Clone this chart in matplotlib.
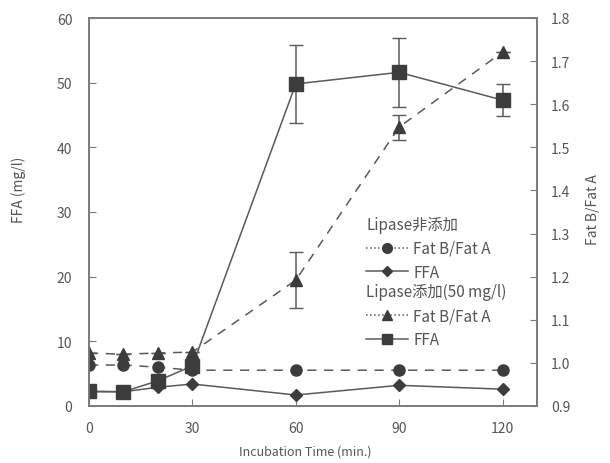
import matplotlib
matplotlib.use('Agg')
import matplotlib.pyplot as plt
from matplotlib.lines import Line2D

plt.rcParams['font.family'] = ['Noto Sans CJK JP', 'DejaVu Sans']

time = [0, 10, 20, 30, 60, 90, 120]

# Lipase not added
ratio_ctrl = [0.995, 0.995, 0.990, 0.983, 0.983, 0.983, 0.983]
ffa_ctrl = [2.2, 2.2, 2.9, 3.4, 1.7, 3.2, 2.6]

# Lipase added (50 mg/l)
ratio_lip = [1.023, 1.020, 1.023, 1.025, 1.192, 1.547, 1.721]
ratio_lip_err = [0, 0, 0, 0, 0.065, 0.029, 0]
ffa_lip = [2.3, 2.2, 3.9, 6.2, 49.8, 51.6, 47.3]
ffa_lip_err = [0, 0, 0, 0, 6.0, 5.3, 2.5]

grey_txt = '#555555'
grey_axis = '#7a7a7a'
mark = '#3c3c3c'
line = '#5a5a5a'

fig = plt.figure(figsize=(6.1, 4.64), dpi=100)
ax = fig.add_axes([89/610, 57/464, 448/610, 388/464])
ax2 = ax.twinx()

# left axis: FFA
ax.errorbar(time, ffa_lip, yerr=ffa_lip_err, color=line, lw=1.1,
            marker='s', ms=10, mfc=mark, mec=mark, ecolor=line,
            elinewidth=1.1, capsize=5, zorder=3)
ax.plot(time, ffa_ctrl, color=line, lw=1.1, marker='D', ms=6,
        mfc=mark, mec=mark, zorder=3)

# right axis: Fat B / Fat A
ax2.errorbar(time, ratio_lip, yerr=ratio_lip_err, color=line, lw=1.1,
             dashes=(6, 5), marker='^', ms=9, mfc=mark, mec=mark,
             ecolor=line, elinewidth=1.1, capsize=5)
ax2.plot(time, ratio_ctrl, color=line, lw=1.1, dashes=(6, 5), marker='o',
         ms=8, mfc=mark, mec=mark)

ax.set_xlim(0, 130)
ax.set_ylim(0, 60)
ax2.set_ylim(0.9, 1.8)
ax.set_xticks([0, 30, 60, 90, 120])
ax.set_yticks(range(0, 61, 10))
ax2.set_yticks([0.9, 1.0, 1.1, 1.2, 1.3, 1.4, 1.5, 1.6, 1.7, 1.8])
ax2.set_yticklabels(['0.9', '1.0', '1.1', '1.2', '1.3', '1.4', '1.5',
                     '1.6', '1.7', '1.8'])

for a in (ax, ax2):
    for s in a.spines.values():
        s.set_color(grey_axis)
        s.set_linewidth(1.2)
ax.tick_params(axis='both', direction='in', length=5, color=grey_axis,
               labelcolor=grey_txt, labelsize=10)
ax.tick_params(axis='y', pad=12)
ax.tick_params(axis='x', pad=11)
ax2.tick_params(axis='y', direction='in', length=5, color=grey_axis,
                labelcolor=grey_txt, labelsize=10, pad=10)

ax.set_xlabel('Incubation Time (min.)', color=grey_txt, fontsize=9)
ax.set_ylabel('FFA (mg/l)', color=grey_txt, fontsize=10)
ax2.set_ylabel('Fat B/Fat A', color=grey_txt, fontsize=10)
ax.xaxis.set_label_coords(0.483, -0.1)
ax.yaxis.set_label_coords(-0.14, 0.56)
ax2.yaxis.set_label_coords(1.11, 0.51)

h_ctrl = [Line2D([], [], color=line, lw=1.1, ls=':', marker='o', ms=7,
                 mfc=mark, mec=mark),
          Line2D([], [], color=line, lw=1.1, marker='D', ms=5,
                 mfc=mark, mec=mark)]
h_lip = [Line2D([], [], color=line, lw=1.1, ls=':', marker='^', ms=7,
                mfc=mark, mec=mark),
         Line2D([], [], color=line, lw=1.1, marker='s', ms=7,
                mfc=mark, mec=mark)]
labels = ['Fat B/Fat A', 'FFA']

leg_kw = dict(frameon=False, fontsize=11, title_fontsize=11,
              alignment='left', handlelength=2.75, handletextpad=0.35,
              borderpad=0, borderaxespad=0, labelspacing=0.45,
              labelcolor=grey_txt, loc='upper left')
leg1 = ax2.legend(h_ctrl, labels, title='Lipase非添加',
                  bbox_to_anchor=(366/610, (464-217)/464),
                  bbox_transform=fig.transFigure, **leg_kw)
leg1.get_title().set_color(grey_txt)
ax2.add_artist(leg1)
leg2 = ax2.legend(h_lip, labels, title='Lipase添加(50 mg/l)',
                  bbox_to_anchor=(366/610, (464-284)/464),
                  bbox_transform=fig.transFigure, **leg_kw)
leg2.get_title().set_color(grey_txt)

fig.savefig('out.png', dpi=100)
